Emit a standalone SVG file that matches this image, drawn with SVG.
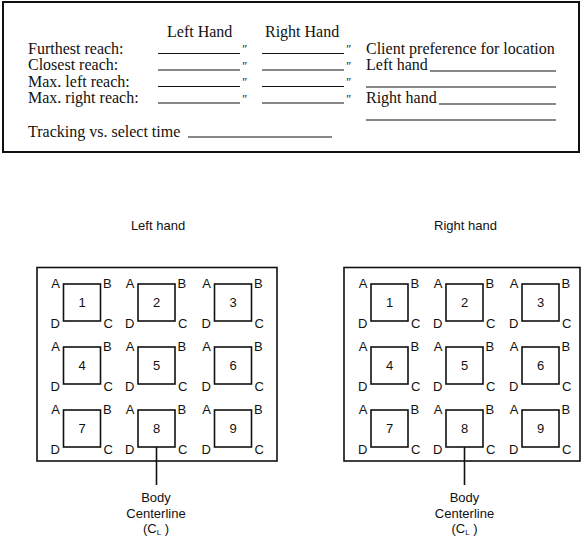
<svg xmlns="http://www.w3.org/2000/svg" width="585" height="537" viewBox="0 0 585 537">
<style>
.frame{fill:none;stroke:#111;stroke-width:2}
.box{fill:none;stroke:#111;stroke-width:1.6}
.sq{fill:#fff;stroke:#111;stroke-width:1.6}
.ul{stroke:#111;stroke-width:1.1}
.ser{font-family:"Liberation Serif","Times New Roman",serif;font-size:16px;fill:#111}
.q{font-family:"Liberation Serif",serif;font-size:12px;font-style:italic;fill:#111}
.sans{font-family:"Liberation Sans",Arial,sans-serif;font-size:13px;fill:#111}
.mid{text-anchor:middle}
.end{text-anchor:end}
.cl{stroke:#111;stroke-width:1.6}
</style>
<defs>
<g id="cell">
<rect class="sq" x="0" y="0" width="37" height="37"/>
<text class="sans end" x="-3.5" y="3.5">A</text>
<text class="sans" x="39.5" y="3.5">B</text>
<text class="sans" x="40" y="44">C</text>
<text class="sans end" x="-3.5" y="43.5">D</text>
</g>
</defs>

<g id="form">
<rect class="frame" x="3" y="2" width="576" height="150"/>
<text class="ser" x="167" y="37">Left Hand</text>
<text class="ser" x="265" y="37">Right Hand</text>
<text class="ser" x="28" y="54">Furthest reach:</text>
<text class="ser" x="28" y="70">Closest reach:</text>
<text class="ser" x="28" y="86.5">Max. left reach:</text>
<text class="ser" x="28" y="103">Max. right reach:</text>
<g>
<line class="ul" x1="158" y1="53.5" x2="240" y2="53.5"/>
<line class="ul" x1="158" y1="70" x2="240" y2="70"/>
<line class="ul" x1="158" y1="86.5" x2="240" y2="86.5"/>
<line class="ul" x1="158" y1="103" x2="240" y2="103"/>
<line class="ul" x1="262" y1="53.5" x2="344" y2="53.5"/>
<line class="ul" x1="262" y1="70" x2="344" y2="70"/>
<line class="ul" x1="262" y1="86.5" x2="344" y2="86.5"/>
<line class="ul" x1="262" y1="103" x2="344" y2="103"/>
</g>
<text class="q" x="241.5" y="53">″</text>
<text class="q" x="241.5" y="69.5">″</text>
<text class="q" x="241.5" y="86">″</text>
<text class="q" x="241.5" y="102.5">″</text>
<text class="q" x="345.5" y="53">″</text>
<text class="q" x="345.5" y="69.5">″</text>
<text class="q" x="345.5" y="86">″</text>
<text class="q" x="345.5" y="102.5">″</text>
<text class="ser" x="366" y="54">Client preference for location</text>
<text class="ser" x="366" y="70">Left hand</text>
<line class="ul" x1="430" y1="71" x2="556" y2="71"/>
<line class="ul" x1="366" y1="87" x2="556" y2="87"/>
<text class="ser" x="366" y="103">Right hand</text>
<line class="ul" x1="439" y1="104" x2="556" y2="104"/>
<line class="ul" x1="366" y1="120" x2="556" y2="120"/>
<text class="ser" x="28" y="137">Tracking vs. select time</text>
<line class="ul" x1="188" y1="137" x2="332" y2="137"/>
</g>

<g id="left-grid">
<text class="sans mid" x="158" y="230">Left hand</text>
<rect class="box" x="37" y="267.5" width="240" height="193.5"/>
<g id="L1"><use href="#cell" x="63.5" y="284"/><text class="sans mid" x="82" y="306.5">1</text></g>
<g id="L2"><use href="#cell" x="138" y="284"/><text class="sans mid" x="156.5" y="306.5">2</text></g>
<g id="L3"><use href="#cell" x="214.5" y="284"/><text class="sans mid" x="233" y="306.5">3</text></g>
<g id="L4"><use href="#cell" x="63.5" y="347"/><text class="sans mid" x="82" y="369.5">4</text></g>
<g id="L5"><use href="#cell" x="138" y="347"/><text class="sans mid" x="156.5" y="369.5">5</text></g>
<g id="L6"><use href="#cell" x="214.5" y="347"/><text class="sans mid" x="233" y="369.5">6</text></g>
<g id="L7"><use href="#cell" x="63.5" y="410"/><text class="sans mid" x="82" y="432.5">7</text></g>
<g id="L8"><use href="#cell" x="138" y="410"/><text class="sans mid" x="156.5" y="432.5">8</text></g>
<g id="L9"><use href="#cell" x="214.5" y="410"/><text class="sans mid" x="233" y="432.5">9</text></g>
</g>

<g id="right-grid">
<text class="sans mid" x="465.5" y="230">Right hand</text>
<rect class="box" x="344" y="267.5" width="236" height="193.5"/>
<g id="R1"><use href="#cell" x="371" y="284"/><text class="sans mid" x="389.5" y="306.5">1</text></g>
<g id="R2"><use href="#cell" x="446" y="284"/><text class="sans mid" x="464.5" y="306.5">2</text></g>
<g id="R3"><use href="#cell" x="522" y="284"/><text class="sans mid" x="540.5" y="306.5">3</text></g>
<g id="R4"><use href="#cell" x="371" y="347"/><text class="sans mid" x="389.5" y="369.5">4</text></g>
<g id="R5"><use href="#cell" x="446" y="347"/><text class="sans mid" x="464.5" y="369.5">5</text></g>
<g id="R6"><use href="#cell" x="522" y="347"/><text class="sans mid" x="540.5" y="369.5">6</text></g>
<g id="R7"><use href="#cell" x="371" y="410"/><text class="sans mid" x="389.5" y="432.5">7</text></g>
<g id="R8"><use href="#cell" x="446" y="410"/><text class="sans mid" x="464.5" y="432.5">8</text></g>
<g id="R9"><use href="#cell" x="522" y="410"/><text class="sans mid" x="540.5" y="432.5">9</text></g>
</g>

<g id="connectors">
<line class="cl" x1="156.5" y1="447" x2="156.5" y2="485"/>
<line class="cl" x1="464.5" y1="447" x2="464.5" y2="485"/>
</g>

<g id="left-centerline-label">
<text class="sans mid" x="156" y="502">Body</text>
<text class="sans mid" x="156" y="517.5">Centerline</text>
<text class="sans mid" x="156" y="533">(C<tspan font-size="8" dy="2">L</tspan><tspan dy="-2"> )</tspan></text>
</g>
<g id="right-centerline-label">
<text class="sans mid" x="464.5" y="502">Body</text>
<text class="sans mid" x="464.5" y="517.5">Centerline</text>
<text class="sans mid" x="464.5" y="533">(C<tspan font-size="8" dy="2">L</tspan><tspan dy="-2"> )</tspan></text>
</g>
</svg>
